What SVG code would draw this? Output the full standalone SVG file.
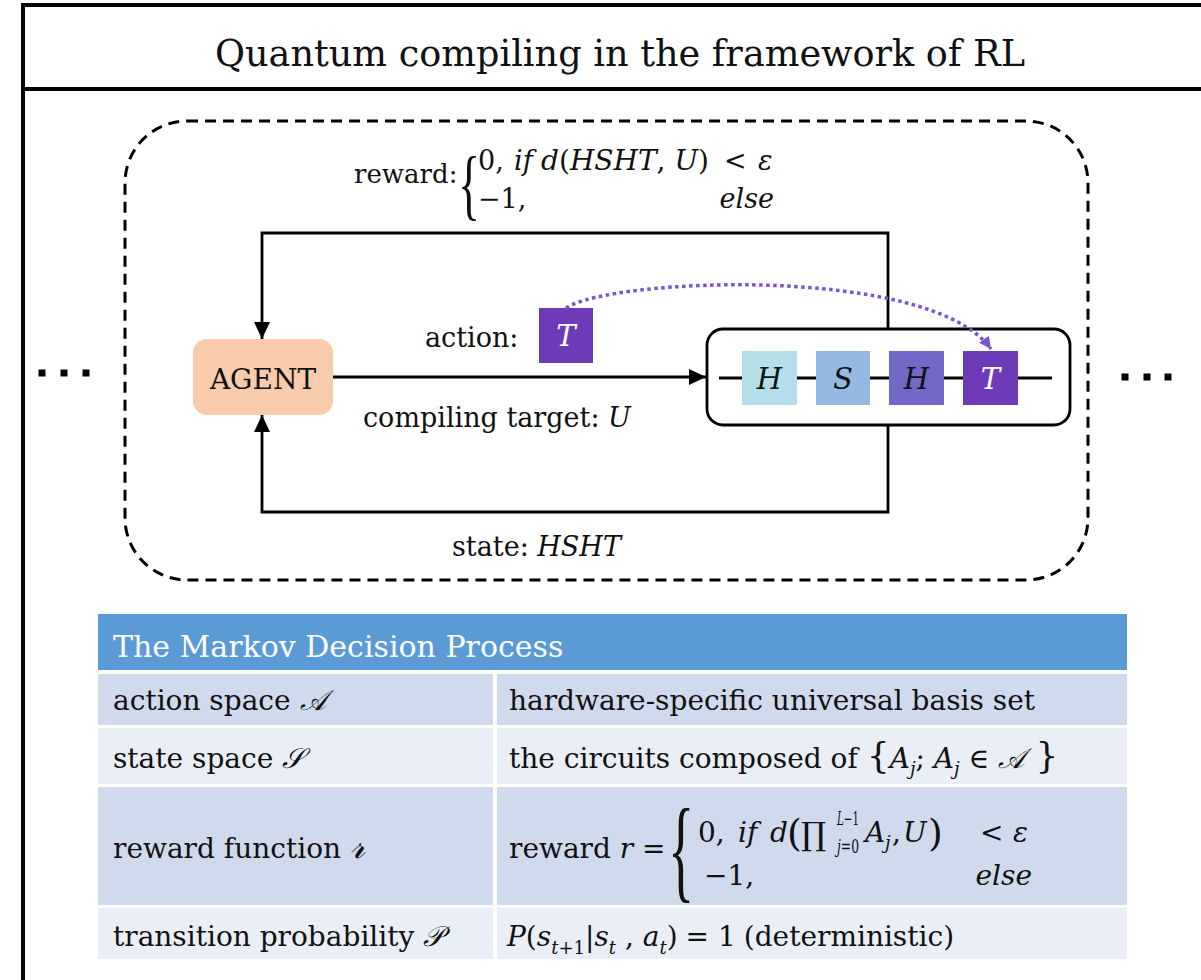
<svg xmlns="http://www.w3.org/2000/svg" width="1201" height="980" viewBox="0 0 1201 980">
  <defs>
    <style>
      text { font-family: "DejaVu Serif", "Liberation Serif", serif; fill: #111; }
      .lbl { font-size: 27px; }
      .tb { font-size: 28px; }
      .it { font-style: italic; }
      .sub { font-size: 18px; }
      .scr { font-family: "DejaVu Sans", "Noto Sans", sans-serif; font-style: italic; }
      .brace { font-family: "Liberation Serif", serif; }
      .gate { font-size: 29px; font-style: italic; text-anchor: middle; }
      .wire { stroke: #000; stroke-width: 2.8; fill: none; }
      .conn { stroke: #000; stroke-width: 2.8; fill: none; }
      .dash { stroke: #000; stroke-width: 3; fill: none; stroke-dasharray: 11 7; }
      .hdr { fill: #5B9BD5; }
      .rowA { fill: #CFDBEC; }
      .rowB { fill: #E9EEF7; }
    </style>
    <marker id="ah" markerUnits="userSpaceOnUse" markerWidth="18" markerHeight="18" refX="17" refY="8" orient="auto">
      <path d="M0,0 L17,8 L0,16 z" fill="#000"/>
    </marker>
    <marker id="ahp" markerUnits="userSpaceOnUse" markerWidth="14" markerHeight="14" refX="12" refY="6" orient="auto">
      <path d="M0,0 L12,6 L0,12 z" fill="#7B52D3"/>
    </marker>
  </defs>

  <rect width="1201" height="980" fill="#fff"/>

  <!-- outer frame with title bar -->
  <g id="frame">
    <rect x="23" y="5" width="1200" height="985" fill="none" stroke="#000" stroke-width="4"/>
    <line x1="23" y1="89" x2="1201" y2="89" stroke="#000" stroke-width="4"/>
    <text x="620" y="66" font-size="38" text-anchor="middle" textLength="810" lengthAdjust="spacingAndGlyphs">Quantum compiling in the framework of RL</text>
  </g>

  <!-- environment boundary -->
  <g id="environment">
    <rect x="125" y="121" width="963" height="459" rx="62" ry="62" class="dash"/>
  </g>

  <!-- ellipsis on both sides -->
  <g id="ellipsis-left" fill="#000">
    <rect x="38.5" y="369.5" width="7" height="7"/>
    <rect x="60.5" y="369.5" width="7" height="7"/>
    <rect x="82.5" y="369.5" width="7" height="7"/>
  </g>
  <g id="ellipsis-right" fill="#000">
    <rect x="1121.5" y="373.5" width="7" height="7"/>
    <rect x="1143.5" y="373.5" width="7" height="7"/>
    <rect x="1164.5" y="373.5" width="7" height="7"/>
  </g>

  <!-- agent -->
  <g id="agent">
    <rect x="193" y="339" width="140" height="76" rx="14" fill="#F8CBAD"/>
    <text x="263" y="389" font-size="28" text-anchor="middle">AGENT</text>
  </g>

  <!-- chosen action gate -->
  <g id="action-gate">
    <rect x="539" y="308" width="54" height="55" fill="#6E3BB8"/>
    <text x="566" y="346" class="gate" style="fill:#fff">T</text>
  </g>

  <!-- circuit being built -->
  <g id="circuit">
    <rect x="707" y="329" width="363" height="96" rx="16" fill="#fff" stroke="#000" stroke-width="2.8"/>
    <line x1="719" y1="378" x2="1052" y2="378" class="wire"/>
    <rect x="742" y="351" width="55" height="54" fill="#B4DFEA"/>
    <text x="769.5" y="389" class="gate">H</text>
    <rect x="816" y="351" width="54" height="54" fill="#95B8E3"/>
    <text x="843" y="389" class="gate">S</text>
    <rect x="889" y="351" width="55" height="54" fill="#7268C7"/>
    <text x="916.5" y="389" class="gate">H</text>
    <rect x="963" y="351" width="55" height="54" fill="#6E3BB8"/>
    <text x="990.5" y="389" class="gate" style="fill:#fff">T</text>
  </g>

  <!-- connectors -->
  <g id="connectors">
    <line x1="333" y1="377" x2="706" y2="377" class="conn" marker-end="url(#ah)"/>
    <polyline points="888,329 888,233 262,233 262,339" class="conn" marker-end="url(#ah)"/>
    <polyline points="888,425 888,512 262,512 262,415" class="conn" marker-end="url(#ah)"/>
    <path d="M566,308 C610,278 930,264 991,349" fill="none" stroke="#7B52D3" stroke-width="3.5" stroke-dasharray="3.5 3.5" marker-end="url(#ahp)"/>
  </g>

  <!-- loop labels -->
  <g id="labels">
    <text x="354" y="183" font-size="26">reward:</text>
    <text x="0" y="0" class="brace" font-size="92" transform="translate(458,211) scale(0.5,0.86)">{</text>
    <text x="478" y="170" class="lbl">0,</text>
    <text x="514" y="170" class="lbl it">if</text>
    <text x="541" y="170" font-size="28"><tspan class="it">d</tspan>(<tspan class="it">HSHT</tspan>, <tspan class="it">U</tspan>)</text>
    <text x="724" y="170" class="lbl">&lt;</text>
    <text x="758" y="170" class="lbl it">ε</text>
    <text x="478" y="208" class="lbl">−1,</text>
    <text x="774" y="208" class="lbl it" text-anchor="end">else</text>

    <text x="425" y="347" class="lbl">action:</text>
    <text x="363" y="427" class="lbl">compiling target: <tspan class="it">U</tspan></text>
    <text x="452" y="556" class="lbl">state: <tspan class="it">HSHT</tspan></text>
  </g>

  <!-- Markov decision process table -->
  <g id="mdp-table">
    <rect x="98" y="614" width="1029" height="56" class="hdr"/>
    <text x="113" y="657" font-size="30" style="fill:#fff">The Markov Decision Process</text>

    <rect x="98" y="674" width="395" height="51" class="rowA"/>
    <rect x="497" y="674" width="630" height="51" class="rowA"/>
    <rect x="98" y="728" width="395" height="56" class="rowB"/>
    <rect x="497" y="728" width="630" height="56" class="rowB"/>
    <rect x="98" y="787" width="395" height="118" class="rowA"/>
    <rect x="497" y="787" width="630" height="118" class="rowA"/>
    <rect x="98" y="908" width="395" height="51" class="rowB"/>
    <rect x="497" y="908" width="630" height="51" class="rowB"/>

    <text x="113" y="710" class="tb">action space <tspan class="scr">𝒜</tspan></text>
    <text x="509" y="710" class="tb">hardware-specific universal basis set</text>

    <text x="113" y="768" class="tb">state space <tspan class="scr">𝒮</tspan></text>
    <text x="509" y="768" class="tb">the circuits composed of <tspan font-size="36">{</tspan><tspan class="it">A</tspan><tspan class="sub it" dy="7">j</tspan><tspan dy="-7">; </tspan><tspan class="it">A</tspan><tspan class="sub it" dy="7">j</tspan><tspan dy="-7"> ∈ </tspan><tspan class="scr">𝒜</tspan><tspan font-size="36"> }</tspan></text>

    <text x="113" y="858" class="tb">reward function <tspan class="scr" font-size="36">𝓇</tspan></text>
    <text x="509" y="858" class="tb">reward <tspan class="it">r</tspan> =</text>
    <text x="0" y="0" class="brace" font-size="130" transform="translate(668,888) scale(0.42,0.88)">{</text>
    <text x="698" y="842" class="tb">0,</text>
    <text x="738" y="842" class="tb it">if</text>
    <text x="770" y="842" class="tb it">d</text>
    <text x="787" y="846" font-size="38">(</text>
    <text x="801" y="845" font-size="32">∏</text>
    <text x="837" y="825" class="sub" textLength="22" lengthAdjust="spacingAndGlyphs"><tspan class="it">L</tspan>−1</text>
    <text x="837" y="853" class="sub" textLength="22" lengthAdjust="spacingAndGlyphs"><tspan class="it">j</tspan>=0</text>
    <text x="865" y="842" class="tb it">A</text>
    <text x="885" y="849" class="sub it">j</text>
    <text x="892" y="842" class="tb">,</text>
    <text x="903" y="842" class="tb it">U</text>
    <text x="928" y="846" font-size="38">)</text>
    <text x="980" y="842" class="tb">&lt;</text>
    <text x="1013" y="842" class="tb it">ε</text>
    <text x="704" y="885" class="tb">−1,</text>
    <text x="1032" y="885" class="tb it" text-anchor="end">else</text>

    <text x="113" y="946" class="tb">transition probability <tspan class="scr">𝒫</tspan></text>
    <text x="507" y="946" class="tb"><tspan class="it">P</tspan>(<tspan class="it">s</tspan><tspan class="sub" dy="8"><tspan class="it">t</tspan>+1</tspan><tspan dy="-8">|</tspan><tspan class="it">s</tspan><tspan class="sub it" dy="8">t</tspan><tspan dy="-8"> , </tspan><tspan class="it">a</tspan><tspan class="sub it" dy="8">t</tspan><tspan dy="-8">)</tspan><tspan dx="8">= 1</tspan><tspan dx="8">(deterministic)</tspan></text>
  </g>
</svg>
